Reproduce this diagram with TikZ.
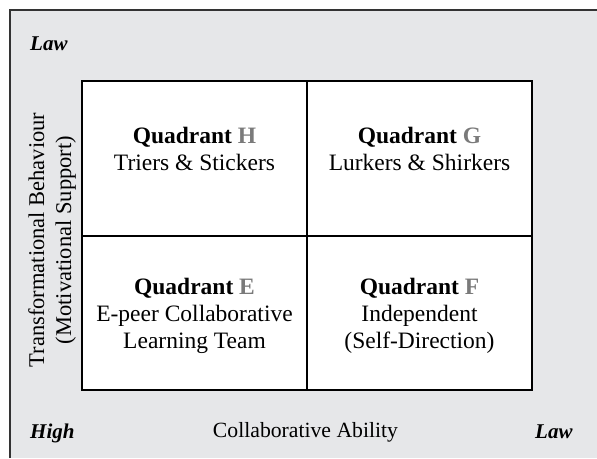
\documentclass[tikz,border=0pt]{standalone}
\usepackage{fontspec}
\setmainfont{Liberation Serif}
\definecolor{panelgray}{HTML}{E6E7E9}
\definecolor{lettergray}{HTML}{7A7A7A}
\newcommand{\quadname}[1]{\textbf{Quadrant \textcolor{lettergray}{#1}}}
\tikzset{
  quadtext/.style={align=center, font=\fontsize{23.5}{27}\selectfont},
  cornertext/.style={font=\fontsize{21}{25}\selectfont\bfseries\itshape, anchor=base west, inner sep=0pt},
  axistext/.style={align=center, font=\fontsize{22.5}{27}\selectfont}
}
\begin{document}
\begin{tikzpicture}[x=1pt, y=-1pt]
  \useasboundingbox (0,0) rectangle (597,458);
  % background panel
  \fill[panelgray] (10,10) rectangle (597,458);
  \draw[line width=1.5pt, black!80] (10,458) -- (10,10) -- (597,10);
  % quadrant grid
  \draw[fill=white, line width=1.8pt] (82,81) rectangle (532,390);
  \draw[line width=1.8pt] (307,81) -- (307,390);
  \draw[line width=1.8pt] (82,236) -- (532,236);
  % quadrant texts
  \node[quadtext] (quadH) at (194.5,148.5) {\quadname{H}\\Triers \& Stickers};
  \node[quadtext] (quadG) at (419.5,148.5) {\quadname{G}\\Lurkers \& Shirkers};
  \node[quadtext] (quadE) at (194.5,315.5) {\quadname{E}\\E-peer Collaborative\\Learning Team};
  \node[quadtext] (quadF) at (419.5,315.5) {\quadname{F}\\Independent\\(Self-Direction)};
  % axis labels
  \node[axistext, rotate=90] (yaxis) at (52,240) {Transformational Behaviour\\(Motivational Support)};
  \node[axistext, anchor=base, font=\fontsize{21.7}{27}\selectfont] (xaxis) at (305.5,437) {Collaborative Ability};
  \node[cornertext] (lawtop) at (30,50) {Law};
  \node[cornertext] (high) at (30,438) {High};
  \node[cornertext] (lawright) at (535,438) {Law};
\end{tikzpicture}
\end{document}
